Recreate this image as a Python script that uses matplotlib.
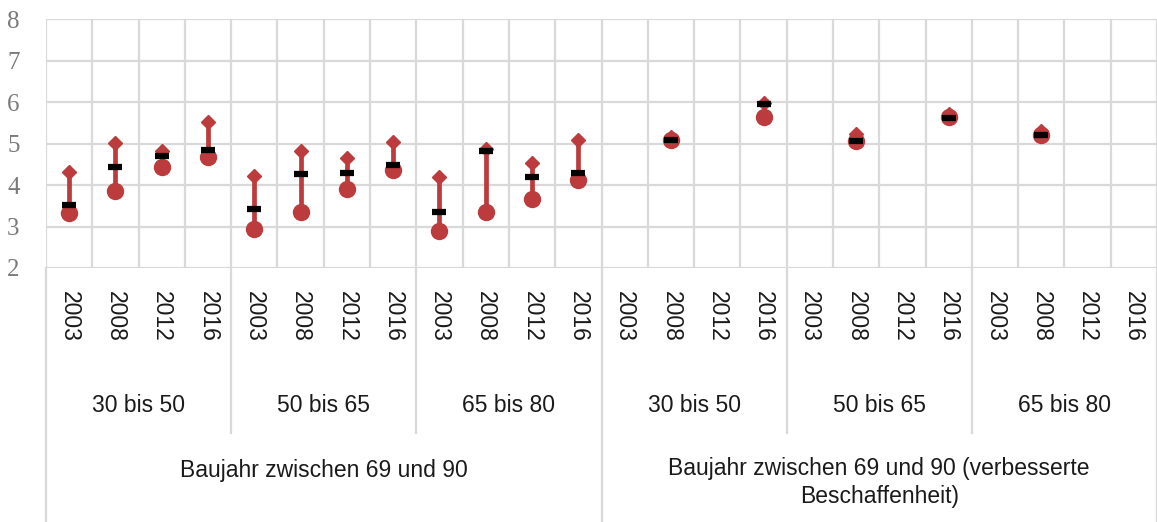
import numpy as np
import matplotlib
matplotlib.use("Agg")
import matplotlib.pyplot as plt
from matplotlib.transforms import blended_transform_factory

nan = np.nan
years = ["2003", "2008", "2012", "2016"]
subgroups = ["30 bis 50", "50 bis 65", "65 bis 80"]
groups = ["Baujahr zwischen 69 und 90",
          "Baujahr zwischen 69 und 90 (verbesserte\nBeschaffenheit)"]

max_vals = [4.31, 5.01, 4.83, 5.53, 4.22, 4.83, 4.64, 5.04, 4.20, 4.86, 4.52, 5.08,
            nan, 5.16, nan, 5.98, nan, 5.24, nan, 5.70, nan, 5.30, nan, nan]
mean_vals = [3.53, 4.44, 4.71, 4.84, 3.41, 4.27, 4.30, 4.47, 3.36, 4.83, 4.19, 4.29,
             nan, 5.09, nan, 5.94, nan, 5.07, nan, 5.62, nan, 5.21, nan, nan]
min_vals = [3.32, 3.86, 4.43, 4.67, 2.94, 3.35, 3.91, 4.36, 2.90, 3.35, 3.66, 4.11,
            nan, 5.08, nan, 5.63, nan, 5.06, nan, 5.63, nan, 5.20, nan, nan]

RED = "#BC3B3D"
GRID = "#D9D9D9"
W, H = 1157, 522

fig = plt.figure(figsize=(W / 100, H / 100), dpi=100)
ax = fig.add_axes([46 / W, 1 - 268 / H, (W - 46) / W, (268 - 19) / H])

n = len(max_vals)
x = np.arange(n)
ax.set_xlim(-0.5, n - 0.5)
ax.set_ylim(2, 8)

# grid
for yv in range(2, 9):
    ax.axhline(yv, color=GRID, lw=1.6, zorder=0)
for b in np.arange(-0.5, n, 1.0):
    ax.axvline(b, color=GRID, lw=1.6, zorder=0)
for s in ax.spines.values():
    s.set_visible(False)

mx = np.array(max_vals)
mn = np.array(min_vals)
me = np.array(mean_vals)
ok = ~np.isnan(mx)
ax.vlines(x[ok], mn[ok], mx[ok], color=RED, lw=3.4, zorder=2)
ax.plot(x, mx, ls="none", marker="D", ms=7.5, color=RED, mec=RED, zorder=3)
ax.plot(x, mn, ls="none", marker="o", ms=11.5, color=RED, mec=RED, zorder=3)
ax.plot(x, me, ls="none", marker="_", ms=9.5, mew=4.5, color="black", zorder=4)

ax.set_xticks([])
ax.set_yticks(range(2, 9))
ax.tick_params(axis="y", length=0, pad=19, labelsize=18, labelcolor="#7a7a7a")
for t in ax.get_yticklabels():
    t.set_fontfamily("Liberation Serif")

tr = blended_transform_factory(ax.transData, fig.transFigure)
fy = lambda p: 1 - p / H
tc = "#1a1a1a"
ff = "Liberation Sans"

for i in range(n):
    ax.text(i, fy(291), years[i % 4], transform=tr, rotation=270, ha="center", va="top",
            fontsize=16.5, family=ff, color=tc)
for j in range(n // 4):
    ax.text(j * 4 + 1.5, fy(405), subgroups[j % 3], transform=tr, ha="center", va="center",
            fontsize=16.5, family=ff, color=tc)
ax.text(5.5, fy(470), groups[0], transform=tr, ha="center", va="center",
        fontsize=16.5, family=ff, color=tc)
ax.text(17.5, fy(457), groups[1], transform=tr, ha="center", va="top",
        fontsize=16.5, family=ff, color=tc, linespacing=1.3)

# separators below axis
for j in range(n // 4 + 1):
    b = j * 4 - 0.5
    bottom = 522 if j % 3 == 0 else 433
    ax.plot([b, b], [fy(268), fy(bottom)], transform=tr, color=GRID, lw=1.6, clip_on=False)

fig.savefig("out.png", dpi=100)
